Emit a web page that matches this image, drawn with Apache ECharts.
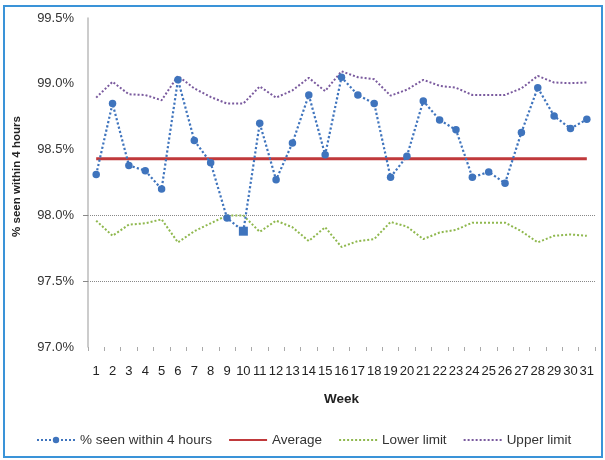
<!DOCTYPE html>
<html>
<head>
<meta charset="utf-8">
<script src="https://cdn.jsdelivr.net/npm/echarts@6/dist/echarts.min.js"></script>
<style>html,body{margin:0;padding:0;background:#fff}#c{width:605px;height:460px}</style>
</head>
<body>
<div id="c"></div>
<script>
const weeks = ['1','2','3','4','5','6','7','8','9','10','11','12','13','14','15','16','17','18','19','20','21','22','23','24','25','26','27','28','29','30','31'];
const seen = [98.31,98.85,98.38,98.34,98.20,99.03,98.57,98.40,97.98,97.88,98.70,98.27,98.55,98.915,98.46,99.05,98.915,98.85,98.29,98.45,98.87,98.725,98.65,98.29,98.33,98.245,98.63,98.97,98.755,98.66,98.73];
const average = [98.43,98.43,98.43,98.43,98.43,98.43,98.43,98.43,98.43,98.43,98.43,98.43,98.43,98.43,98.43,98.43,98.43,98.43,98.43,98.43,98.43,98.43,98.43,98.43,98.43,98.43,98.43,98.43,98.43,98.43,98.43];
const lowerLimit = [97.96,97.845,97.93,97.94,97.97,97.795,97.88,97.94,98.00,98.00,97.875,97.96,97.91,97.805,97.91,97.76,97.805,97.82,97.95,97.915,97.82,97.87,97.89,97.945,97.945,97.945,97.88,97.795,97.845,97.855,97.845];
const upperLimit = [98.895,99.015,98.92,98.915,98.875,99.06,98.965,98.90,98.85,98.85,98.98,98.895,98.95,99.045,98.945,99.095,99.05,99.035,98.91,98.955,99.03,98.985,98.97,98.915,98.915,98.915,98.965,99.06,99.01,99.005,99.01];
const gridTicks = [97.5, 98.0];

const chart = echarts.init(document.getElementById('c'), null, {renderer:'canvas'});
const font = 'Liberation Sans';
const seenData = seen.map((v,i)=> i===9 ? {value:v, symbol:'rect', symbolSize:9} : v);
const hideSym = {opacity:0};
chart.setOption({
  animation:false,
  textStyle:{fontFamily:font},
  graphic:[{type:'rect', shape:{x:4,y:6,width:598,height:451}, style:{fill:'none', stroke:'#3a93d8', lineWidth:2}, silent:true}],
  grid:{left:88,right:10,top:18,bottom:113},
  legend:{
    left:31, top:428, itemWidth:38, itemHeight:8, itemGap:16,
    textStyle:{fontFamily:font,fontSize:13.5,color:'#333'},
    data:[
      {name:'% seen within 4 hours'},
      {name:'Average', itemStyle:hideSym},
      {name:'Lower limit', itemStyle:hideSym},
      {name:'Upper limit', itemStyle:hideSym}
    ]
  },
  xAxis:{
    type:'category', data:weeks, boundaryGap:true,
    name:'Week', nameLocation:'middle', nameGap:45,
    nameTextStyle:{fontFamily:font,fontWeight:'bold',fontSize:13.5,color:'#222'},
    axisLine:{show:false},
    axisTick:{show:true,length:4,lineStyle:{color:'#aaa'}},
    axisLabel:{interval:0,fontSize:13,color:'#222',margin:18},
    splitLine:{show:false}
  },
  yAxis:[{
    type:'value', min:97.0, max:99.5, interval:0.5,
    name:'% seen within 4 hours', nameLocation:'middle', nameGap:65, nameRotate:90,
    nameTextStyle:{fontFamily:font,fontWeight:'bold',fontSize:11.5,color:'#222',padding:[0,0,0,12]},
    axisLine:{show:true,lineStyle:{color:'#bbb',width:1.5}},
    axisTick:{show:false},
    axisLabel:{fontSize:13,color:'#333',margin:14,formatter:v=>v.toFixed(1)+'%'},
    splitLine:{show:true,lineStyle:{type:'dotted',width:1,color:['rgba(0,0,0,0)','#888','#888','rgba(0,0,0,0)','rgba(0,0,0,0)','rgba(0,0,0,0)']}}
  },{
    type:'value', min:97.0, max:99.5, interval:0.5, position:'left',
    axisLine:{show:false}, axisLabel:{show:false}, splitLine:{show:false},
    axisTick:{show:true,length:5,customValues:gridTicks,lineStyle:{color:'#888'}}
  }],
  series:[
    {name:'% seen within 4 hours', type:'line', data:seenData, symbol:'circle', symbolSize:7.5,
     lineStyle:{type:'dotted',width:2.2,color:'#3f74bd'}, itemStyle:{color:'#3f74bd'}, z:5},
    {name:'Average', type:'line', data:average, symbol:'none', lineStyle:{width:3,color:'#c0393b'}, itemStyle:{color:'#c0393b'}, z:4},
    {name:'Lower limit', type:'line', data:lowerLimit, symbol:'none', lineStyle:{type:'dotted',width:2,color:'#8fb84e'}, itemStyle:{color:'#8fb84e'}, z:3},
    {name:'Upper limit', type:'line', data:upperLimit, symbol:'none', lineStyle:{type:'dotted',width:2,color:'#7a5a9e'}, itemStyle:{color:'#7a5a9e'}, z:3}
  ]
});
</script>
</body>
</html>
